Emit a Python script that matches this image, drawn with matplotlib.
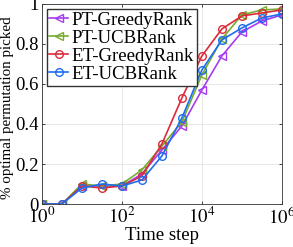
import matplotlib
matplotlib.use('Agg')
import matplotlib.pyplot as plt
import numpy as np

plt.rcParams['font.family'] = ['Liberation Serif', 'DejaVu Serif']
plt.rcParams['mathtext.fontset'] = 'stix'

# time steps, half-decade spacing
steps = [1, 3.16, 10, 31.6, 100, 316, 1000, 3162, 1e4, 31623, 1e5, 316228, 1e6]

pt_greedy = [0, 0, 0.09, 0.09, 0.09, 0.15, 0.27, 0.39, 0.57, 0.74, 0.86, 0.915, 0.945]
pt_ucb = [0, 0, 0.10, 0.09, 0.10, 0.17, 0.29, 0.41, 0.645, 0.825, 0.945, 0.97, 0.975]
et_greedy = [0, 0, 0.09, 0.08, 0.09, 0.14, 0.30, 0.53, 0.74, 0.875, 0.94, 0.955, 0.97]
et_ucb = [0, 0, 0.08, 0.10, 0.09, 0.12, 0.24, 0.43, 0.67, 0.82, 0.88, 0.93, 0.95]

labels = ['PT-GreedyRank', 'PT-UCBRank', 'ET-GreedyRank', 'ET-UCBRank']
colors = ['#A63CF0', '#77AC30', '#D92B3A', '#1E6CF0']
markers = ['<', '<', 'o', 'o']

fig = plt.figure(figsize=(2.93, 2.47), dpi=100)
ax = fig.add_axes([0.143, 0.174, 0.819, 0.81])

for ys, lab, c, m in zip([pt_greedy, pt_ucb, et_greedy, et_ucb], labels, colors, markers):
    ax.plot(steps, ys, color=c, marker=m, markersize=5.5, markerfacecolor='none',
            markeredgewidth=1.0, linewidth=1.2, label=lab)

ax.set_xscale('log')
ax.set_xlim(1, 1e6)
ax.set_ylim(0, 1)
ax.set_xticks([1, 100, 1e4, 1e6])
ax.set_xticklabels([r'$10^0$', r'$10^2$', r'$10^4$', r'$10^6$'])
ax.set_yticks([0, 0.2, 0.4, 0.6, 0.8, 1])
ax.set_yticklabels(['0', '0.2', '0.4', '0.6', '0.8', '1'])
ax.grid(True, which='major', color='#dddddd', linewidth=0.5)
ax.grid(True, which='minor', color='#e8e8e8', linewidth=0.4, linestyle=':')
ax.tick_params(which='both', direction='in', top=True, right=True, labelsize=13.5,
               length=2, width=0.5, pad=2)
ax.tick_params(which='minor', length=1.5)
for s in ax.spines.values():
    s.set_linewidth(0.6)
    s.set_color('#333333')

ax.set_xlabel('Time step', fontsize=13.5, labelpad=-1)
ax.set_ylabel('% optimal permutation picked', fontsize=10.8, labelpad=-1)
ax.yaxis.set_label_coords(-0.118, 0.48)

ax.legend(loc='upper left', fontsize=13.5, handlelength=1.0, handletextpad=0.2,
          borderpad=0.15, labelspacing=0.05, borderaxespad=0.25, fancybox=False,
          edgecolor='#333333', framealpha=1)

fig.savefig('out.png', dpi=100)
